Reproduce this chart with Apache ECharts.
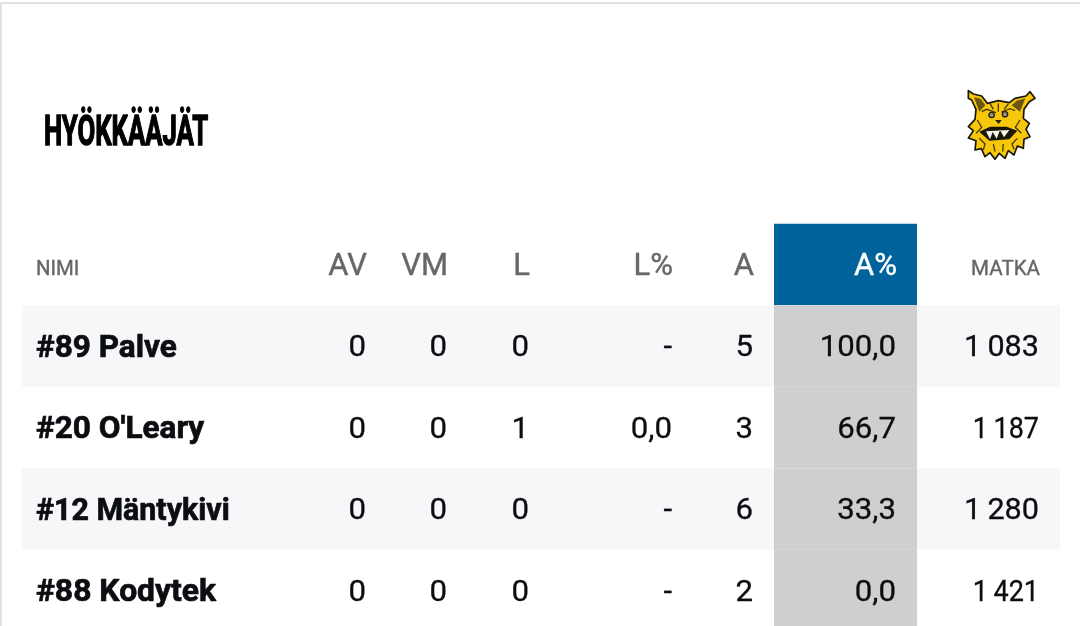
<!DOCTYPE html>
<html><head><meta charset="utf-8">
<style>html,body{margin:0;padding:0;background:#fff}#c{width:1080px;height:626px}</style>
<script src="https://cdn.jsdelivr.net/npm/echarts@6/dist/echarts.min.js"></script>
</head><body><div id="c"></div>
<script>
// ---- data ----
const title = 'HYÖKKÄÄJÄT';
const headers = ['NIMI','AV','VM','L','L%','A','A%','MATKA'];
const players = ['#89 Palve',"#20 O'Leary",'#12 Mäntykivi','#88 Kodytek'];
const av = [0,0,0,0];
const vm = [0,0,0,0];
const l = [0,1,0,0];
const lPct = [null,0.0,null,null];
const a = [5,3,6,2];
const aPct = [100.0,66.7,33.3,0.0];
const matka = [1083,1187,1280,1421];

// ---- layout ----
const colRight = [36,366,447,529,672,753,896,1039];
const hl = {x0:774,x1:917}, band = {x0:22,x1:1060};
const BLUE='#00629b', GREY='#cfcfcf', STRIPE='#f6f7f9', INK='#0b0d10', HEAD='#666769';
const matkaScale = [1.02,0.9,1.02,0.9];
const nameScale = [0.985,0.985,0.95,0.995];
const fix1 = v => v===null ? '-' : v.toFixed(1).replace('.',',');
const thou = v => { const s=String(v); return s.slice(0,-3)+'\u2009'+s.slice(-3); };

const cells = [];
headers.forEach((h,c)=>{
  const small = c===0||c===7;
  cells.push({value:[colRight[c]+(c?1:0),-1],text:h,align:c===0?'left':'right',
    font:small?'400 21px Roboto':'400 31px Roboto',sx:small?(c===0?0.97:0.98):1,color:c===6?'#fff':HEAD,dy:small?5:3,bold:0.4});
});
players.forEach((p,r)=>{
  cells.push({value:[colRight[0],r],text:p,align:'left',font:'700 32px Roboto',sx:nameScale[r],color:INK,dy:3,bold:0.7});
  const row=[av[r],vm[r],l[r],fix1(lPct[r]),a[r],fix1(aPct[r]),thou(matka[r])];
  row.forEach((v,i)=>cells.push({value:[colRight[i+1],r],text:String(v),align:'right',font:'400 30px Roboto',
    sx:i===6?matkaScale[r]:1.04,color:INK,dy:3,bold:0.3}));
});

const rect=(api,x0,x1,r0,r1,fill)=>{
  const a0=api.coord([x0,r0]),a1=api.coord([x1,r1]);
  return {type:'rect',shape:{x:a0[0],y:a0[1],width:a1[0]-a0[0],height:a1[1]-a0[1]},style:{fill}};
};
const rowIdx = [-1,0,1,2,3];

const logoOutline=[[85,62],[100,72],[125,78],[142,100],[175,92],[208,98],[225,85],[258,78],[270,65],[285,85],[268,95],[252,118],[250,145],[268,160],[258,178],[270,200],[252,208],[250,235],[232,228],[222,255],[205,242],[195,265],[178,250],[165,268],[150,248],[135,260],[124,236],[105,240],[108,212],[85,204],[100,182],[85,170],[105,148],[108,118],[95,90],[85,85]];
const hairs=[[[112,150],[125,172],[108,190]],[[240,150],[226,172],[244,190]],[[118,205],[135,222],[130,240]],[[232,205],[216,222],[222,238]],[[160,222],[165,245]],[[190,222],[188,245]],[[125,125],[140,118],[168,128]],[[225,122],[210,116],[184,126]],[[175,100],[175,125]],[[150,100],[160,118]],[[205,102],[192,118]]];
const hairEls=hairs.map(h=>({type:'polyline',shape:{points:h},style:{stroke:'#4a3a08',lineWidth:4,fill:null}}));

const chart=echarts.init(document.getElementById('c'),null,{renderer:'canvas'});
chart.setOption({
  animation:false,
  backgroundColor:'#fff',
  grid:{left:0,right:0,top:0,bottom:0},
  xAxis:{type:'value',min:0,max:1080,show:false},
  yAxis:{type:'value',min:-4.245,max:3.436,inverse:true,show:false},
  graphic:[
    {type:'rect',shape:{x:0,y:2,width:1080,height:2},style:{fill:'#e2e2e2'}},
    {type:'rect',shape:{x:0,y:2,width:2,height:624},style:{fill:'#e2e2e2'}},
    {type:'text',x:44,y:134,scaleX:0.613,style:{text:title,font:'700 42px Roboto',fill:'#000',stroke:'#000',lineWidth:1.4,textAlign:'left',textVerticalAlign:'middle'}},
    {type:'group',x:940,y:70,scaleX:1/3,scaleY:1/3,children:[
      {type:'polygon',shape:{points:logoOutline},style:{fill:'#f6c70a',stroke:'#1a1608',lineWidth:5,lineJoin:'round'}},
      {type:'polygon',shape:{points:[[102,82],[122,86],[136,106],[118,125]]},style:{fill:'#6a5812'}},
      {type:'polygon',shape:{points:[[256,85],[230,92],[215,106],[240,125]]},style:{fill:'#6a5812'}},
      ...hairEls,
      {type:'circle',shape:{cx:155,cy:135,r:8},style:{fill:'#9a9580',stroke:'#2a2208',lineWidth:4}},
      {type:'circle',shape:{cx:195,cy:133,r:8},style:{fill:'#9a9580',stroke:'#2a2208',lineWidth:4}},
      {type:'polygon',shape:{points:[[165,150],[185,150],[176,162]]},style:{fill:'#2a2208'}},
      {type:'polygon',shape:{points:[[118,185],[150,170],[200,170],[232,182],[208,208],[148,212]]},style:{fill:'#1a1608'}},
      {type:'polygon',shape:{points:[[138,184],[150,208],[158,186],[170,206],[180,180],[192,202],[208,180]]},style:{fill:'#f4f4ee'}}
    ]}
  ],
  series:[
    {type:'custom',coordinateSystem:'cartesian2d',silent:true,z:1,clip:false,
     data:rowIdx.map(r=>[0,r]),
     renderItem(p,api){
       const r=api.value(1);
       if(r<0) return {type:'group',children:[rect(api,hl.x0,hl.x1,r-0.5,r+0.5,BLUE)]};
       const ch=[];
       if(r%2===0) ch.push(rect(api,band.x0,band.x1,r-0.5,r+0.5,STRIPE));
       ch.push(rect(api,hl.x0,hl.x1,r-0.5,r+0.5,GREY));
       return {type:'group',children:ch};
     }},
    {type:'custom',coordinateSystem:'cartesian2d',silent:true,z:3,clip:false,
     data:cells,
     renderItem(p,api){
       const d=cells[p.dataIndex], pt=api.coord(d.value);
       return {type:'text',x:pt[0],y:pt[1]+d.dy,scaleX:d.sx,
         style:{text:d.text,font:d.font,fill:d.color,stroke:d.color,lineWidth:d.bold,textAlign:d.align,textVerticalAlign:'middle'}};
     }}
  ]
});
</script></body></html>
